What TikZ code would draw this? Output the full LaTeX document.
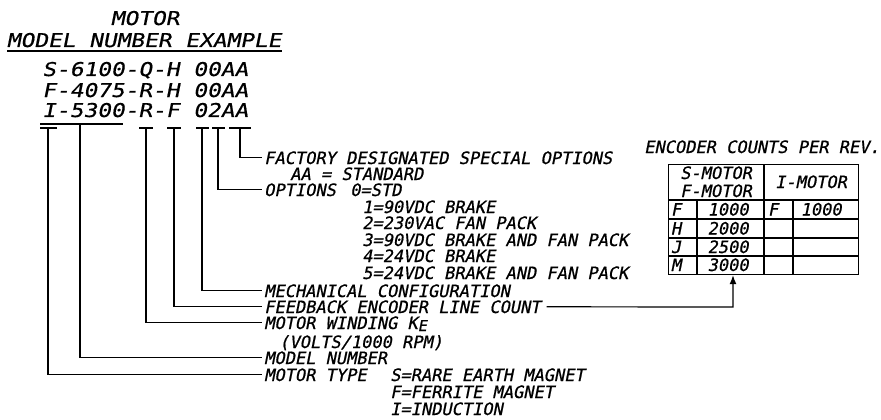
\documentclass[tikz,border=0pt]{standalone}
\usepackage{fontspec}
\usetikzlibrary{arrows.meta,calc}
\newfontfamily\cadf[FakeSlant=0.2,FakeBold=0.8]{DejaVu Sans Mono}
\newfontfamily\cadbf[FakeSlant=0.2,FakeStretch=1.2,FakeBold=0.6]{DejaVu Sans Mono}
\begin{document}
\begin{tikzpicture}[x=1pt,y=1pt,
  txt/.style={anchor=base west, inner sep=0pt, font=\cadf\fontsize{17}{17}\selectfont},
  ctxt/.style={anchor=base, inner sep=0pt, font=\cadf\fontsize{17}{17}\selectfont},
  big/.style={anchor=base west, inner sep=0pt, font=\cadbf\fontsize{19}{19}\selectfont},
  ln/.style={line width=1.2pt},
  tick/.style={line width=1.3pt},
  lead/.style={line width=1.2pt}]
\useasboundingbox (0,0) rectangle (881,-420);

% title
\node[big,anchor=base] (t1) at (145,-25) {MOTOR};
\node[big,anchor=base] (t2) at (144,-47) {MODEL NUMBER EXAMPLE};
\draw[line width=1.8pt] (7,-51) -- (282,-51);

% model examples
\node[big] (r1) at (42,-76) {S-6100-Q-H 00AA};
\node[big] (r2) at (42,-97) {F-4075-R-H 00AA};
\node[big] (r3) at (42,-117) {I-5300-R-F 02AA};
\draw[tick] (40,-124) -- (123,-124);

% tick marks
\coordinate (kI) at (48,-128);
\coordinate (kM) at (80,-124);
\coordinate (kR) at (146,-128);
\coordinate (kF) at (174,-128);
\coordinate (k0) at (202,-128);
\coordinate (k2) at (218,-128);
\coordinate (kA) at (240,-128);
\draw[tick] (40,-128) -- (57,-128);
\draw[tick] (139,-128) -- (153,-128);
\draw[tick] (167,-128) -- (181,-128);
\draw[tick] (196,-128) -- (209,-128);
\draw[tick] (212,-128) -- (225,-128);
\draw[tick] (229,-128) -- (251,-128);

% descriptions
\node[txt] (fact) at (264,-164) {FACTORY DESIGNATED SPECIAL OPTIONS};
\node[txt] (std) at (290,-180) {AA = STANDARD};
\node[txt] (opt) at (264,-196) {OPTIONS};
\node[txt] (o0) at (350,-196) {0=STD};
\node[txt] (o1) at (362,-213) {1=90VDC BRAKE};
\node[txt] (o2) at (362,-229) {2=230VAC FAN PACK};
\node[txt] (o3) at (362,-246) {3=90VDC BRAKE AND FAN PACK};
\node[txt] (o4) at (362,-262) {4=24VDC BRAKE};
\node[txt] (o5) at (362,-279) {5=24VDC BRAKE AND FAN PACK};
\node[txt] (mech) at (264,-297) {MECHANICAL CONFIGURATION};
\node[txt] (feed) at (264,-313) {FEEDBACK ENCODER LINE COUNT};
\node[txt] (wind) at (264,-329) {MOTOR WINDING K\raisebox{-2pt}{\fontsize{15}{15}\selectfont E}};
\node[txt] (volts) at (279,-348) {(VOLTS/1000 RPM)};
\node[txt] (model) at (264,-364) {MODEL NUMBER};
\node[txt] (type) at (264,-381) {MOTOR TYPE};
\node[txt] (rare) at (390,-381) {S=RARE EARTH MAGNET};
\node[txt] (ferr) at (390,-398) {F=FERRITE MAGNET};
\node[txt] (ind) at (390,-415) {I=INDUCTION};

% leaders
\draw[lead] (kA) |- ([shift={(-2pt,6.2pt)}]fact.base west);
\draw[lead] (k2) |- ([shift={(-2pt,6.2pt)}]opt.base west);
\draw[lead] (k0) |- ([shift={(-2pt,6.2pt)}]mech.base west);
\draw[lead] (kF) |- ([shift={(-2pt,6.2pt)}]feed.base west);
\draw[lead] (kR) |- ([shift={(-2pt,6.2pt)}]wind.base west);
\draw[lead] (kM) |- ([shift={(-2pt,6.2pt)}]model.base west);
\draw[lead] (kI) |- ([shift={(-2pt,6.2pt)}]type.base west);

% encoder table
\node[txt] (enc) at (644,-153) {ENCODER COUNTS PER REV.};
\node[draw, ln, minimum width=190pt, minimum height=110pt, inner sep=0pt, anchor=north west] (tbl) at (668,-164) {};
\draw[ln] (764,-164) -- (764,-274);
\draw[ln] (668,-200) -- (858,-200);
\draw[ln] (668,-219) -- (858,-219);
\draw[ln] (668,-238) -- (858,-238);
\draw[ln] (668,-256) -- (858,-256);
\draw[ln] (697,-200) -- (697,-274);
\draw[ln] (793,-200) -- (793,-274);

\node[ctxt] (hs) at (716,-179) {S-MOTOR};
\node[ctxt] (hf) at (716,-197) {F-MOTOR};
\node[ctxt] (hi) at (811,-188) {I-MOTOR};
\node[ctxt] (c1a) at (676,-215.5) {F};
\node[ctxt] (c1b) at (728,-215.5) {1000};
\node[ctxt] (c1c) at (773,-215.5) {F};
\node[ctxt] (c1d) at (821,-215.5) {1000};
\node[ctxt] (c2a) at (676,-234.5) {H};
\node[ctxt] (c2b) at (728,-234.5) {2000};
\node[ctxt] (c3a) at (676,-253) {J};
\node[ctxt] (c3b) at (728,-253) {2500};
\node[ctxt] (c4a) at (676,-271) {M};
\node[ctxt] (c4b) at (728,-271) {3000};

\coordinate (ax) at (733,-307);
\draw[ln,-{Latex[length=9pt,width=7pt]}] ([shift={(6pt,6.2pt)}]feed.base east) -- (ax) -- (ax |- tbl.south);
\end{tikzpicture}
\end{document}
